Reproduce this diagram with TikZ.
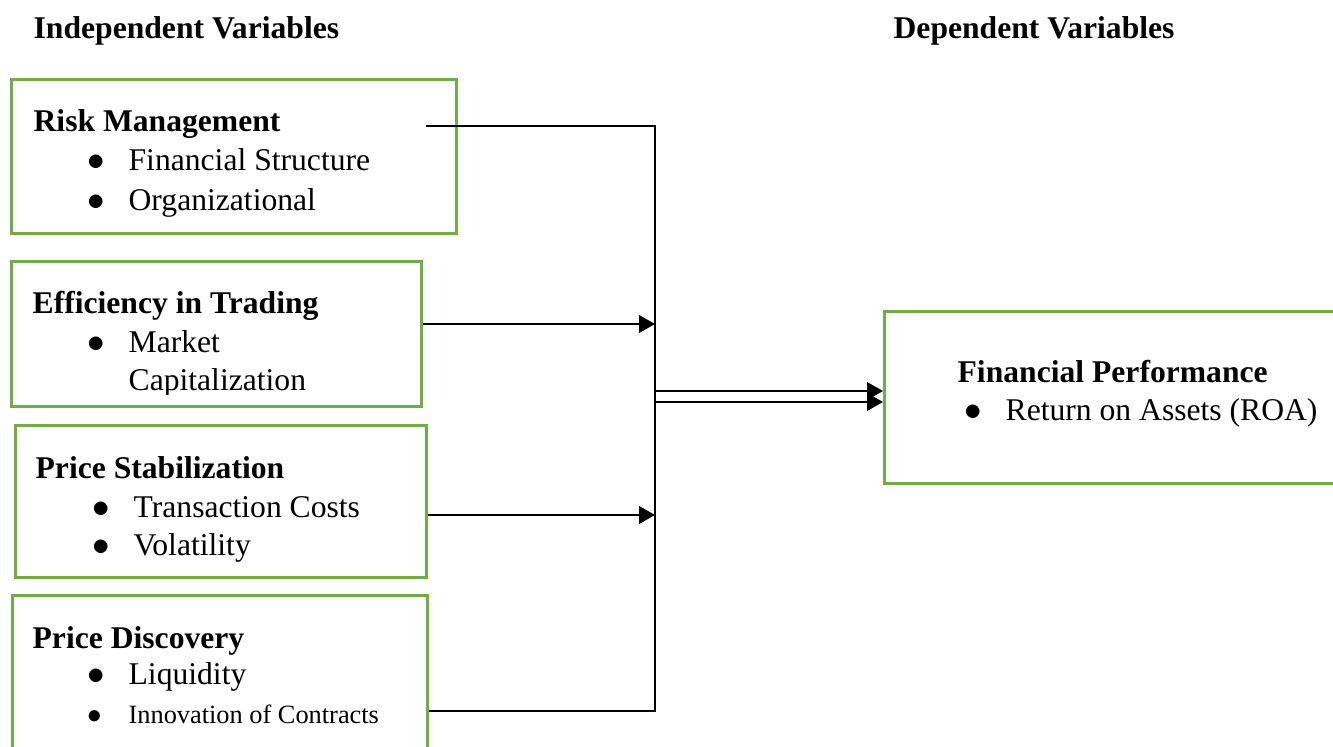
\documentclass[tikz,border=0pt]{standalone}
\usepackage{fontspec}
\setmainfont{Liberation Serif}
\usetikzlibrary{arrows.meta}
\definecolor{boxgreen}{RGB}{112,173,71}
\newcommand\bul{\makebox[0.82cm][l]{\scalebox{1.15}{$\bullet$}}}

\begin{document}
\begin{tikzpicture}[x=0.02cm,y=-0.02cm,line width=0.75pt,
	box/.style={rectangle,draw=boxgreen,line width=1.7pt,anchor=north west,inner sep=0pt},
	txt/.style={anchor=base west,inner sep=0pt,font=\fontsize{18}{22}\selectfont},
	head/.style={anchor=base west,inner sep=0pt,font=\fontsize{18}{22}\selectfont\bfseries},
	tip/.style={-{Triangle[length=9pt,width=10pt]}}]
	\useasboundingbox (0,0) rectangle (1333,747);
	\node (indep) at (33,38) [head] {Independent Variables};
	\node (dep) at (893,38) [head] {Dependent Variables};
	\node (risk) at (10,78) [box,minimum width=8.9cm,minimum height=3.08cm] {};
	\node (trade) at (10,260) [box,minimum width=8.2cm,minimum height=2.9cm] {};
	\node (stab) at (14,424) [box,minimum width=8.22cm,minimum height=3.04cm] {};
	\node (disc) at (11,594) [box,minimum width=8.3cm,minimum height=3.4cm] {};
	\node (perf) at (883,310) [box,minimum width=9.4cm,minimum height=3.44cm] {};
	\node (riskh) at (33,131) [head] {Risk Management};
	\node (risk1) at (87,170) [txt] {\bul Financial Structure};
	\node (risk2) at (87,210) [txt] {\bul Organizational};
	\node (tradeh) at (32,313) [head] {Efficiency in Trading};
	\node (trade1) at (87,352) [txt] {\bul Market};
	\begin{scope}
		\clip (10,260) rectangle (420,394);
		\node (trade2) at (128,390) [txt] {Capitalization};
	\end{scope}
	\node (stabh) at (35,478) [head] {Price Stabilization};
	\node (stab1) at (92,517) [txt] {\bul Transaction Costs};
	\node (stab2) at (92,555) [txt] {\bul Volatility};
	\node (disch) at (32,648) [head] {Price Discovery};
	\node (disc1) at (87,684) [txt] {\bul Liquidity};
	\node (disc2) at (87,723) [txt,font=\fontsize{15}{18}\selectfont] {\bul Innovation of Contracts};
	\node (perfh) at (957,382) [head] {Financial Performance};
	\node (perf1) at (964,420) [txt] {\bul Return on Assets (ROA)};
	\coordinate (r0) at (426,126);
	\coordinate (top) at (655,126);
	\coordinate (bot) at (655,711);
	\coordinate (a2) at (655,324);
	\coordinate (a3) at (655,515);
	\coordinate (ja) at (655,391);
	\coordinate (jb) at (655,402);
	\draw (r0) -- (top) -- (bot) -- (bot -| disc.east);
	\draw [tip] (trade.east |- a2) -- (a2);
	\draw [tip] (stab.east |- a3) -- (a3);
	\draw [tip] (ja) -- (ja -| perf.west);
	\draw [tip] (jb) -- (jb -| perf.west);
\end{tikzpicture}
\end{document}
